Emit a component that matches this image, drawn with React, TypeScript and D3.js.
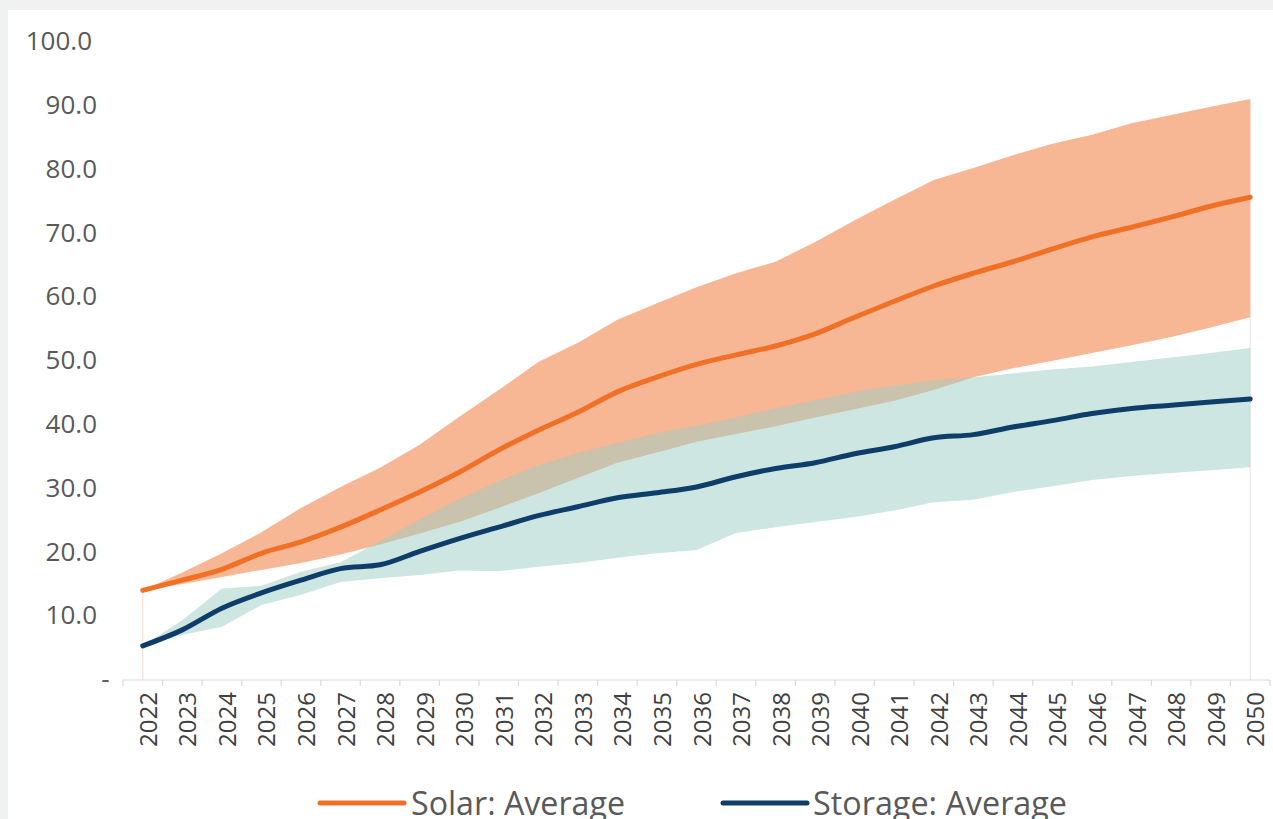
import React from "react";
import * as d3 from "d3";

const years = d3.range(2022, 2051).map(String);

const solarAvg = [13.9, 15.5, 17.2, 19.7, 21.5, 23.8, 26.5, 29.3, 32.4, 35.9, 39.0, 41.8, 45.0, 47.3, 49.3, 50.8, 52.2, 54.1, 56.7, 59.2, 61.6, 63.6, 65.4, 67.4, 69.3, 70.8, 72.4, 74.1, 75.5];
const solarMax = [13.9, 16.7, 19.7, 23.0, 26.8, 30.1, 33.1, 36.7, 41.1, 45.3, 49.7, 52.7, 56.3, 58.9, 61.4, 63.6, 65.4, 68.5, 71.9, 75.1, 78.2, 80.1, 82.1, 83.9, 85.3, 87.1, 88.4, 89.7, 90.9];
const solarMin = [13.9, 14.9, 16.0, 17.1, 18.2, 19.5, 21.1, 22.8, 24.6, 26.8, 29.1, 31.5, 33.9, 35.5, 37.2, 38.4, 39.6, 41.0, 42.3, 43.6, 45.3, 47.3, 48.7, 49.9, 51.1, 52.3, 53.6, 55.1, 56.7];

const storageAvg = [5.2, 7.7, 11.1, 13.5, 15.5, 17.3, 17.9, 20.0, 22.0, 23.8, 25.6, 27.0, 28.4, 29.2, 30.1, 31.7, 33.0, 33.9, 35.3, 36.4, 37.8, 38.3, 39.5, 40.5, 41.6, 42.4, 42.9, 43.4, 43.9];
const storageMin = [5.2, 6.9, 8.2, 11.6, 13.2, 15.2, 15.8, 16.3, 17.0, 16.9, 17.6, 18.2, 19.0, 19.7, 20.2, 22.9, 23.8, 24.6, 25.4, 26.4, 27.7, 28.1, 29.3, 30.2, 31.2, 31.8, 32.3, 32.7, 33.2];
const storageMax = [5.2, 9.2, 14.2, 14.6, 16.8, 18.3, 21.6, 25.0, 28.2, 31.0, 33.5, 35.4, 37.0, 38.5, 39.7, 41.0, 42.4, 43.7, 45.0, 46.0, 46.8, 47.3, 47.9, 48.5, 49.0, 49.7, 50.4, 51.1, 51.9];

const yTicks = [0, 10, 20, 30, 40, 50, 60, 70, 80, 90, 100];
const legendLabels = ["Solar: Average", "Storage: Average"];

const W = 1273;
const H = 819;
const FONT = "'Open Sans', 'Noto Sans', sans-serif";

export default function App() {
  const x = d3.scaleBand<string>().domain(years).range([123, 1270]).padding(0);
  const cx = (i: number) => (x(years[i]) as number) + x.bandwidth() / 2;
  const y = d3.scaleLinear().domain([0, 100]).range([679, 41]);

  const idx = years.map((_, i) => i);

  const band = (lo: number[], hi: number[]) =>
    d3
      .area<number>()
      .x((i) => cx(i))
      .y0((i) => y(lo[i]))
      .y1((i) => y(hi[i]))
      .curve(d3.curveLinear)(idx) as string;

  const line = (v: number[]) =>
    d3
      .line<number>()
      .x((i) => cx(i))
      .y((i) => y(v[i]))
      .curve(d3.curveMonotoneX)(idx) as string;

  const axisY = y(0) + 1;
  const boundaries = [...years.map((yr) => x(yr) as number), 1270];

  const fmt = (v: number) => (v === 0 ? "-" : v.toFixed(1));

  return (
    <div style={{ position: "absolute", left: 0, top: 0, width: W, height: H }}>
      <svg width={W} height={H} style={{ display: "block" }}>
        <rect x={0} y={0} width={W} height={H} fill="#f0f2f1" />
        <rect x={8} y={10} width={W - 8} height={H - 10} fill="#ffffff" />

        {/* faint area edges */}
        <line x1={cx(0)} x2={cx(0)} y1={y(solarMax[0])} y2={axisY} stroke="#f8e1d4" strokeWidth={1.2} />
        <line x1={cx(28)} x2={cx(28)} y1={y(solarMax[28])} y2={axisY} stroke="#f1ebe8" strokeWidth={1.5} />

        {/* bands */}
        <path d={band(solarMin, solarMax)} fill="#f7b795" />
        <path d={band(storageMin, storageMax)} fill="#9bcdc3" fillOpacity={0.5} />

        {/* x axis */}
        <line x1={123} x2={1270} y1={axisY} y2={axisY} stroke="#d9d9d9" strokeWidth={1.2} />
        {boundaries.map((bx, i) => (
          <line key={"t" + i} x1={bx} x2={bx} y1={axisY} y2={axisY + 6} stroke="#d9d9d9" strokeWidth={1.2} />
        ))}
        {years.map((yr, i) => (
          <text
            key={yr}
            transform={`translate(${cx(i) + 14},692) rotate(-90)`}
            textAnchor="end"
            fontFamily={FONT}
            fontSize={24}
            fill="#404040"
          >
            {yr}
          </text>
        ))}

        {/* y labels */}
        {yTicks.map((v) => (
          <text
            key={"y" + v}
            x={v === 0 ? 105.5 : v === 100 ? 92 : 97}
            y={y(v)}
            dy="0.35em"
            textAnchor={v === 0 ? "middle" : "end"}
            fontFamily={FONT}
            fontSize={26}
            fill="#595959"
          >
            {fmt(v)}
          </text>
        ))}

        {/* average lines */}
        <path d={line(solarAvg)} fill="none" stroke="#f07026" strokeWidth={5} strokeLinecap="round" strokeLinejoin="round" />
        <path d={line(storageAvg)} fill="none" stroke="#0e3d69" strokeWidth={5} strokeLinecap="round" strokeLinejoin="round" />

        {/* legend */}
        <line x1={320} x2={404} y1={803} y2={803} stroke="#f07026" strokeWidth={5} strokeLinecap="round" />
        <text x={411} y={815} fontFamily={FONT} fontSize={32} fill="#595959" textLength={214} lengthAdjust="spacingAndGlyphs">
          {legendLabels[0]}
        </text>
        <line x1={723} x2={807} y1={803} y2={803} stroke="#0e3d69" strokeWidth={5} strokeLinecap="round" />
        <text x={813} y={815} fontFamily={FONT} fontSize={32} fill="#595959" textLength={254} lengthAdjust="spacingAndGlyphs">
          {legendLabels[1]}
        </text>
      </svg>
    </div>
  );
}
